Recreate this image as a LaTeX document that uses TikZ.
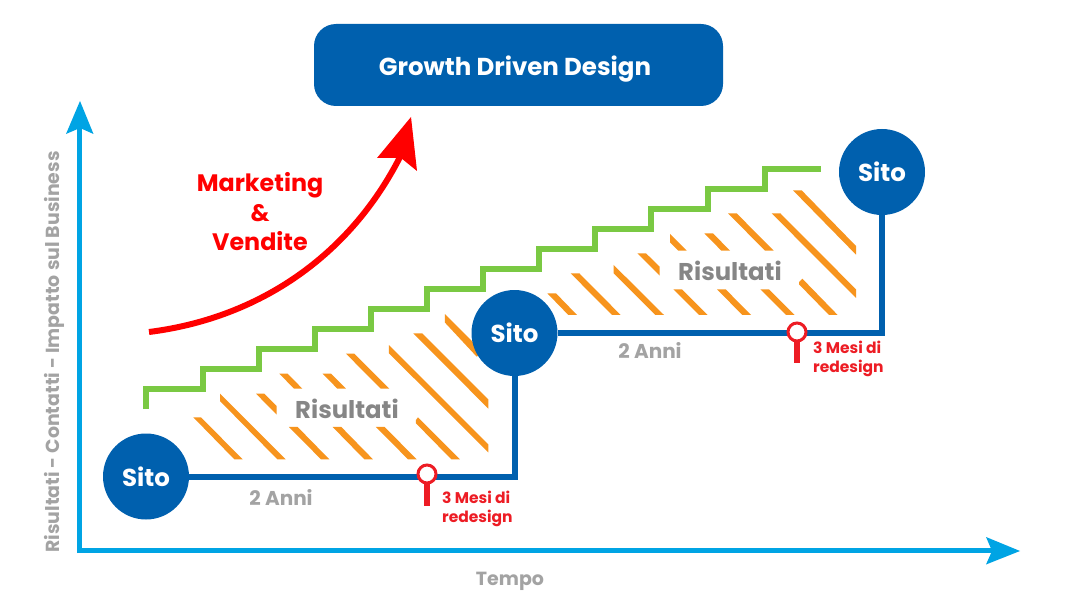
\documentclass[tikz,border=0pt]{standalone}
\usepackage{fontspec}
\setmainfont{Poppins}
\definecolor{dblue}{HTML}{0060AE}
\definecolor{lblue}{HTML}{00A4E4}
\definecolor{sgreen}{HTML}{7AC943}
\definecolor{horange}{HTML}{F7941D}
\definecolor{pinred}{HTML}{ED1C24}
\definecolor{lgray}{HTML}{A3A3A3}
\definecolor{mgray}{HTML}{868686}
\tikzset{
  sito/.style={circle,fill=dblue,minimum size=86pt,inner sep=0pt,text=white,font=\fontsize{24.5}{24.5}\selectfont\bfseries},
  bluelink/.style={draw=dblue,line width=6pt,line cap=butt},
  pin/.style={circle,draw=pinred,fill=white,line width=3pt,minimum size=18pt,inner sep=0pt,outer sep=0pt},
  stem/.style={draw=pinred,line width=6.5pt},
  graylabel/.style={text=lgray,font=\fontsize{20}{20}\selectfont\bfseries},
  resultlabel/.style={text=mgray,font=\fontsize{24.3}{24.3}\selectfont\bfseries},
  redlabel/.style={text=pinred,align=left,anchor=west,font=\fontsize{15.5}{19}\selectfont\bfseries},
  stripe/.style={fill=horange},
  stair/.style={draw=sgreen,line width=6pt,line join=miter},
  axisline/.style={draw=lblue,line width=5pt},
}
\begin{document}
\begin{tikzpicture}[x=1pt,y=-1pt]
\useasboundingbox (0,0) rectangle (1080,607);
\fill[white] (0,0) rectangle (1080,607);
% hatch, left
\begin{scope}[shift={(130,300)},x=0.33333pt,y=-0.33333pt]
\fill[stripe] (190,352)--(213,352)--(338,478)--(313,478)--cycle;
\fill[stripe] (270,281)--(467,478)--(442,478)--(270,303)--cycle;
\fill[stripe] (378,281)--(403,281)--(440,318)--(440,344)--cycle;
\fill[stripe] (448,221)--(473,221)--(517,266)--(492,266)--cycle;
\fill[stripe] (578,221)--(603,221)--(648,266)--(622,266)--cycle;
\fill[stripe] (648,161)--(673,161)--(778,266)--(752,266)--cycle;
\fill[stripe] (777,135)--(1075,433)--(1075,457)--(777,160)--cycle;
\fill[stripe] (850,100)--(877,100)--(1075,298)--(1075,326)--cycle;
\fill[stripe] (945,42)--(1060,157)--(1040,170)--(945,68)--cycle;
\fill[stripe] (477,381)--(503,381)--(598,478)--(573,478)--cycle;
\fill[stripe] (608,381)--(634,381)--(729,478)--(703,478)--cycle;
\fill[stripe] (738,381)--(764,381)--(860,478)--(834,478)--cycle;
\fill[stripe] (864,352)--(990,478)--(964,478)--(858,370)--(858,360)--cycle;
\end{scope}
% hatch, right
\begin{scope}[shift={(530,150)},x=0.33333pt,y=-0.33333pt]
\fill[stripe] (52,430)--(78,430)--(141,495)--(115,495)--cycle;
\fill[stripe] (122,370)--(148,370)--(272,495)--(246,495)--cycle;
\fill[stripe] (251,345)--(402,495)--(376,495)--(251,370)--cycle;
\fill[stripe] (322,310)--(348,310)--(389,350)--(389,377)--cycle;
\fill[stripe] (420,252)--(470,302)--(445,302)--(420,277)--cycle;
\fill[stripe] (523,250)--(549,250)--(600,302)--(574,302)--cycle;
\fill[stripe] (594,190)--(620,190)--(731,302)--(705,302)--cycle;
\fill[stripe] (725,190)--(751,190)--(978,418)--(978,444)--cycle;
\fill[stripe] (789,121)--(815,121)--(978,288)--(978,314)--cycle;
\fill[stripe] (430,418)--(456,418)--(533,495)--(507,495)--cycle;
\fill[stripe] (561,418)--(587,418)--(663,495)--(637,495)--cycle;
\fill[stripe] (691,418)--(717,418)--(794,495)--(768,495)--cycle;
\fill[stripe] (817,386)--(923,495)--(897,495)--(807,403)--(807,396)--cycle;
\end{scope}
% title
\node[fill=dblue,rounded corners=22pt,minimum width=409pt,minimum height=82pt,inner sep=0pt] (title) at (518.5,65) {};
\node[text=white,font=\fontsize{24.5}{24.5}\selectfont\bfseries] (titletext) at (515,69) {Growth Driven Design};
% axes
\coordinate (origin) at (79.5,550.5);
\coordinate (ytip) at (80,101);
\coordinate (xtip) at (1020,551);
\draw[axisline] (79.5,553) -- (79.5,125);
\draw[axisline] (origin) -- (995,550.5);
\fill[lblue] (ytip) -- (93.5,134) -- (80,128) -- (66,134) -- cycle;
\fill[lblue] (xtip) -- (986,564.5) -- (992,551) -- (986,537) -- cycle;
\node[graylabel,font=\fontsize{19}{19}\selectfont\bfseries] (xlab) at (510,581) {Tempo};
\node[graylabel,rotate=90,font=\fontsize{18.9}{18.9}\selectfont\bfseries] (ylab) at (54,352) {Risultati - Contatti - Impatto sul Business};
% stair
\coordinate (stairstart) at (146,409);
\coordinate (stairend) at (821,169);
\draw[stair] (stairstart) |- (203,389) |- (259,369) |- (315,349) |- (371,329) |- (427,309) |- (483,289) |- (539,269) |- (595,249) |- (651,229) |- (708,209) |- (765,189) |- (stairend);
% red arrow
\coordinate (mstart) at (149,332);
\coordinate (mend) at (400,157);
\draw[red,line width=6pt] (mstart) .. controls (260,318) and (350,255) .. (mend);
\fill[red] (411,117) -- (417,171) -- (401,158) -- (377,158) -- cycle;
\node[text=red,align=center,font=\fontsize{23.8}{29.5}\selectfont\bfseries] (mv) at (260,212) {Marketing\\\&\\Vendite};
% sites
\node[sito] (s1) at (146,476.5) {Sito};
\node[sito] (s2) at (514.5,333) {Sito};
\node[sito] (s3) at (882,172) {Sito};
\draw[bluelink] (s1) -| (s2);
\draw[bluelink] (s2) -| (s3);
% pins
\node[pin] (p1) at (427,474) {};
\node[pin] (p2) at (797,332) {};
\coordinate (p1end) at (427,506);
\coordinate (p2end) at (797,363);
\draw[stem] (p1) -- (p1end);
\draw[stem] (p2) -- (p2end);
\node[redlabel,inner sep=0pt] (r1) at (442,509) {3 Mesi di\\redesign};
\node[redlabel,inner sep=0pt] (r2) at (813,358.5) {3 Mesi di\\redesign};
\node[graylabel] (a1) at (281,497.5) {2 Anni};
\node[graylabel] (a2) at (650,350.5) {2 Anni};
\node[resultlabel] (t1) at (347,409) {Risultati};
\node[resultlabel] (t2) at (730,271) {Risultati};
\end{tikzpicture}
\end{document}
